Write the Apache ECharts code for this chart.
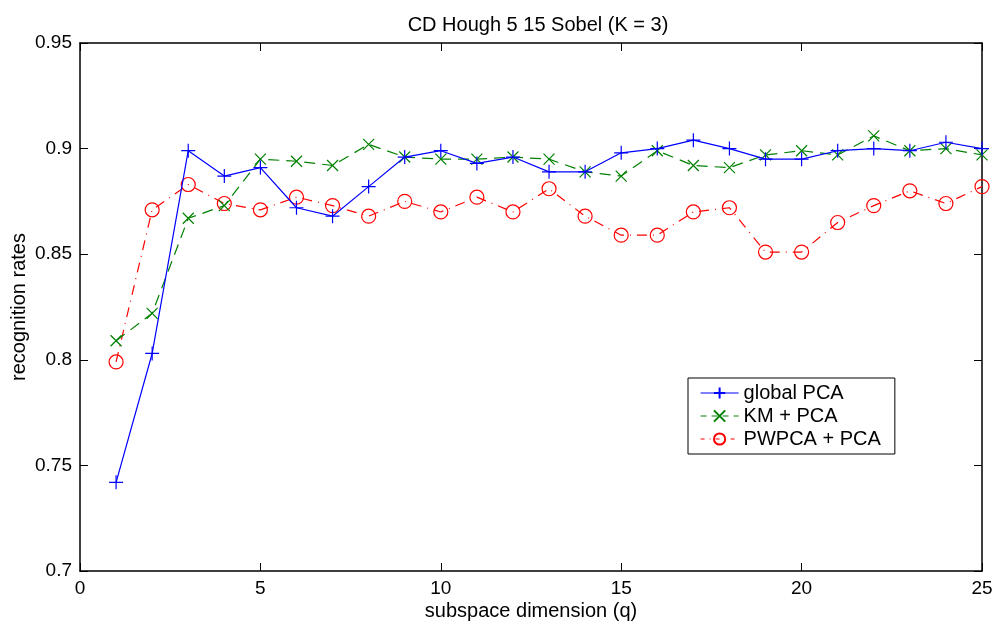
<!DOCTYPE html>
<html>
<head>
<meta charset="utf-8">
<script src="https://cdn.jsdelivr.net/npm/echarts@6/dist/echarts.min.js"></script>
<style>
  html, body { margin: 0; padding: 0; background: #fff; }
  #main { width: 997px; height: 625px; }
</style>
</head>
<body>
<div id="main"></div>
<script>
// subspace dimension q
var dims = [1, 2, 3, 4, 5, 6, 7, 8, 9, 10, 11, 12, 13, 14, 15, 16, 17, 18, 19, 20, 21, 22, 23, 24, 25];

var globalPca = [0.742, 0.803, 0.899, 0.887, 0.891, 0.872, 0.868, 0.882, 0.896, 0.899, 0.893, 0.896, 0.889,
    0.889, 0.898, 0.900, 0.904, 0.900, 0.895, 0.895, 0.899, 0.900, 0.899, 0.903, 0.900];
var kmPca = [0.809, 0.822, 0.867, 0.873, 0.895, 0.894, 0.892, 0.902, 0.896, 0.895, 0.895, 0.896, 0.895,
    0.889, 0.887, 0.899, 0.892, 0.891, 0.897, 0.899, 0.897, 0.906, 0.899, 0.900, 0.897];
var pwpcaPca = [0.799, 0.871, 0.883, 0.874, 0.871, 0.877, 0.873, 0.868, 0.875, 0.870, 0.877, 0.870, 0.881,
    0.868, 0.859, 0.859, 0.870, 0.872, 0.851, 0.851, 0.865, 0.873, 0.880, 0.874, 0.882];

var yTicks = [0.7, 0.75, 0.8, 0.85, 0.9, 0.95];

function pairs(vals) {
    return dims.map(function (d, i) { return [d, vals[i]]; });
}

var FONT = 'Liberation Sans';
var plusPath = 'path://M5,0 L5,10 M0,5 L10,5';
var crossPath = 'path://M0,0 L10,10 M0,10 L10,0';

var BLUE = '#0000ff', GREEN = '#008000', RED = '#ff0000';
var dashKm = [11, 7];
var dashPw = [10, 6, 1, 6];

var chart = echarts.init(document.getElementById('main'));

var tickStyle = { show: true, inside: true, length: 8, lineStyle: { color: '#000', width: 1 } };
var lineAx = { show: true, onZero: false, lineStyle: { color: '#000', width: 1.5 } };

var option = {
    animation: false,
    backgroundColor: '#fff',
    textStyle: { fontFamily: FONT },
    title: {
        text: 'CD Hough 5 15 Sobel (K = 3)',
        left: 533,
        top: 10,
        textAlign: 'center',
        textStyle: { fontFamily: FONT, fontSize: 20, fontWeight: 'normal', color: '#000' }
    },
    grid: { left: 80, right: 15, top: 43, bottom: 54, containLabel: false, outerBoundsMode: 'none' },
    legend: {
        orient: 'vertical',
        left: 688,
        top: 378,
        itemWidth: 38,
        itemHeight: 14,
        itemGap: 3,
        padding: [5, 14, 5, 12],
        borderColor: '#000',
        borderWidth: 1,
        backgroundColor: '#fff',
        textStyle: { fontFamily: FONT, fontSize: 20, lineHeight: 20, color: '#000' },
        data: [
            { name: 'global PCA', lineStyle: { color: BLUE, width: 1.2, type: 'solid' } },
            { name: 'KM + PCA', lineStyle: { color: GREEN, width: 1.2, type: [6, 5] } },
            { name: 'PWPCA + PCA', lineStyle: { color: RED, width: 1.2, type: [4, 5, 1, 5] } }
        ]
    },
    xAxis: [{
        type: 'value',
        min: 0, max: 25, interval: 5,
        position: 'bottom',
        name: 'subspace dimension (q)',
        nameLocation: 'middle',
        nameGap: 30,
        nameMoveOverlap: false,
        nameTextStyle: { fontFamily: FONT, fontSize: 20, color: '#000' },
        axisLine: lineAx,
        axisTick: tickStyle,
        axisLabel: { fontFamily: FONT, fontSize: 19, color: '#000', margin: 8 },
        splitLine: { show: false }
    }, {
        type: 'value',
        min: 0, max: 25, interval: 5,
        position: 'top',
        axisLine: lineAx,
        axisTick: tickStyle,
        axisLabel: { show: false },
        splitLine: { show: false }
    }],
    yAxis: [{
        type: 'value',
        min: 0.7, max: 0.95, interval: 0.05,
        position: 'left',
        name: 'recognition rates',
        nameLocation: 'middle',
        nameGap: 51,
        nameMoveOverlap: false,
        nameTextStyle: { fontFamily: FONT, fontSize: 20, color: '#000' },
        axisLine: lineAx,
        axisTick: tickStyle,
        axisLabel: {
            fontFamily: FONT, fontSize: 19, color: '#000', margin: 8,
            formatter: function (v) { return String(Math.round(v * 100) / 100); }
        },
        splitLine: { show: false }
    }, {
        type: 'value',
        min: 0.7, max: 0.95, interval: 0.05,
        position: 'right',
        axisLine: lineAx,
        axisTick: tickStyle,
        axisLabel: { show: false },
        splitLine: { show: false }
    }],
    series: [{
        name: 'global PCA',
        type: 'line',
        data: pairs(globalPca),
        symbol: plusPath,
        symbolSize: 14,
        symbolKeepAspect: true,
        lineStyle: { color: BLUE, width: 1.2, type: 'solid' },
        itemStyle: { color: BLUE, borderColor: BLUE, borderWidth: 1.2 },
        z: 4
    }, {
        name: 'KM + PCA',
        type: 'line',
        data: pairs(kmPca),
        symbol: crossPath,
        symbolSize: 11,
        symbolKeepAspect: true,
        lineStyle: { color: GREEN, width: 1.2, type: dashKm },
        itemStyle: { color: GREEN, borderColor: GREEN, borderWidth: 1.2 },
        z: 3
    }, {
        name: 'PWPCA + PCA',
        type: 'line',
        data: pairs(pwpcaPca),
        symbol: 'circle',
        symbolSize: 14,
        lineStyle: { color: RED, width: 1.2, type: dashPw },
        itemStyle: { color: 'rgba(255,255,255,0)', borderColor: RED, borderWidth: 1.2 },
        z: 2
    }]
};

chart.setOption(option);
</script>
</body>
</html>
